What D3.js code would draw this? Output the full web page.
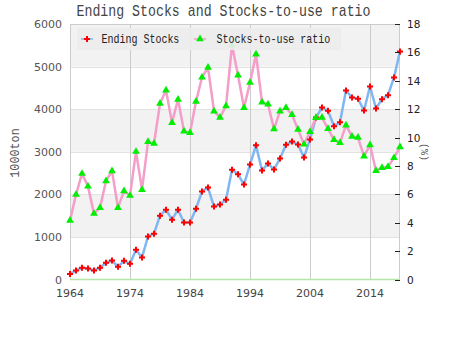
<!DOCTYPE html>
<html><head><meta charset="utf-8">
<script src="https://cdn.jsdelivr.net/npm/d3@7/dist/d3.min.js"></script>
<style>body{margin:0;background:#fff}svg{display:block}</style>
</head><body><svg id="c" width="450" height="350"></svg>
<script>
const years = [1964,1965,1966,1967,1968,1969,1970,1971,1972,1973,1974,1975,1976,1977,1978,1979,1980,1981,1982,1983,1984,1985,1986,1987,1988,1989,1990,1991,1992,1993,1994,1995,1996,1997,1998,1999,2000,2001,2002,2003,2004,2005,2006,2007,2008,2009,2010,2011,2012,2013,2014,2015,2016,2017,2018,2019];
const endingStocks = [130,212,275,259,212,275,392,447,298,439,369,698,518,1012,1075,1498,1640,1404,1640,1337,1337,1663,2066,2160,1714,1761,1875,2580,2470,2231,2698,3150,2561,2722,2584,2840,3165,3240,3170,2866,3290,3804,4039,3961,3600,3694,4439,4274,4243,3969,4533,4016,4235,4329,4745,5357];
const stocksToUse = [4.16,5.98,7.46,6.56,4.64,5.06,6.94,7.65,5.06,6.23,5.91,9.01,6.33,9.70,9.58,12.40,13.34,11.05,12.68,10.45,10.34,12.54,14.24,14.94,11.86,11.41,12.22,16.52,14.39,12.10,13.87,15.87,12.49,12.34,10.60,11.86,12.10,11.61,10.57,9.52,10.41,11.40,11.41,10.62,9.84,9.63,10.87,10.08,10.00,8.68,9.48,7.66,7.88,7.94,8.57,9.34];
const xTicks = [1964,1974,1984,1994,2004,2014];
const leftTicks = [0,1000,2000,3000,4000,5000,6000];
const rightTicks = [0,2,4,6,8,10,12,14,16,18];
const seriesNames = ["Ending Stocks","Stocks-to-use ratio"];
const title = "Ending Stocks and Stocks-to-use ratio";

const svg = d3.select("#c");
const L = 70, R = 400, T = 24, B = 279.5;
const x = d3.scaleLinear().domain([1964, 2019]).range([L, R]);
const yL = d3.scaleLinear().domain([0, 6000]).range([B, T]);
const yR = d3.scaleLinear().domain([0, 18]).range([B, T]);

// bands
const bands = d3.pairs(leftTicks);
svg.append("g").selectAll("rect").data(bands).join("rect")
  .attr("x", L).attr("width", R - L)
  .attr("y", d => yL(d[1])).attr("height", d => yL(d[0]) - yL(d[1]))
  .attr("fill", (d, i) => i % 2 === 1 ? "#f2f2f2" : "#ffffff");
svg.append("g").selectAll("line").data(leftTicks.slice(1)).join("line")
  .attr("x1", L).attr("x2", R).attr("y1", d => Math.round(yL(d)) + 0.5).attr("y2", d => Math.round(yL(d)) + 0.5)
  .attr("stroke", "#e2e2e2");
svg.append("g").selectAll("line").data(xTicks).join("line")
  .attr("x1", d => x(d) + 0.5).attr("x2", d => x(d) + 0.5).attr("y1", T).attr("y2", B)
  .attr("stroke", "#cccccc");
svg.append("path").attr("d", `M${L+0.5},${B}V${T+0.5}H${R-0.5}V${B}`).attr("fill", "none").attr("stroke", "#cccccc");
svg.append("line").attr("x1", L).attr("x2", R).attr("y1", B).attr("y2", B).attr("stroke", "#b4e6a8").attr("stroke-width", 1.5);

// lines
const lineL = d3.line().x((d, i) => x(years[i])).y(d => yL(d));
const lineR = d3.line().x((d, i) => x(years[i])).y(d => yR(d));
svg.append("path").attr("d", lineL(endingStocks)).attr("fill", "none").attr("stroke", "#7fb7f2").attr("stroke-width", 2.5).attr("stroke-linejoin", "round");
svg.append("path").attr("d", lineR(stocksToUse)).attr("fill", "none").attr("stroke", "#f49ec9").attr("stroke-width", 2.5).attr("stroke-linejoin", "round");

const cross = d3.symbol().type(d3.symbolCross).size(20);
const tri = d3.symbol().type(d3.symbolTriangle).size(26);
svg.append("g").selectAll("path").data(endingStocks).join("path")
  .attr("d", cross).attr("fill", "#ff0000")
  .attr("transform", (d, i) => `translate(${x(years[i])},${yL(d)})`);
svg.append("g").selectAll("path").data(stocksToUse).join("path")
  .attr("d", tri).attr("fill", "#00ee00")
  .attr("transform", (d, i) => `translate(${x(years[i])},${yR(d)})`);

// axes
const ax = svg.append("g").attr("font-family", "DejaVu Sans, sans-serif").attr("font-size", 11);
ax.selectAll(".lt").data(leftTicks).join("text").attr("class", "lt")
  .attr("x", 62).attr("y", d => yL(d) + 4).attr("text-anchor", "end").attr("fill", "#555").text(d => d);
ax.selectAll(".bt").data(xTicks).join("text").attr("class", "bt")
  .attr("x", d => x(d)).attr("y", 297).attr("text-anchor", "middle").attr("fill", "#444").text(d => d);
ax.selectAll(".rt").data(rightTicks).join("text").attr("class", "rt")
  .attr("x", 407).attr("y", d => yR(d) + 4).attr("fill", "#222").attr("font-size", 10.5).text(d => d);
svg.append("g").selectAll("line").data(rightTicks).join("line")
  .attr("x1", R - 5).attr("x2", R).attr("y1", d => Math.round(yR(d)) + 0.5).attr("y2", d => Math.round(yR(d)) + 0.5)
  .attr("stroke", "#222");

const mono = "Liberation Mono, DejaVu Sans Mono, monospace";
svg.append("text").attr("transform", "translate(76.5,16) scale(1,1.2)").attr("font-family", mono).attr("font-size", 13.25)
  .attr("fill", "#444").text(title);
svg.append("text").attr("transform", "translate(19,153) rotate(-90) scale(1,1.15)").attr("text-anchor", "middle")
  .attr("font-family", mono).attr("font-size", 11.8).attr("fill", "#555").text("1000ton");
svg.append("text").attr("transform", "translate(421,152) rotate(90)").attr("text-anchor", "middle")
  .attr("font-family", mono).attr("font-size", 10).attr("fill", "#555").text("(%)");

// legend
const lg = svg.append("g");
lg.append("rect").attr("x", 77).attr("y", 28).attr("width", 264).attr("height", 22).attr("fill", "#ececec").attr("opacity", 0.9);
const items = [
  {name: seriesNames[0], mx: 87, tx: 101.5, color: "#7fb7f2", sym: cross, fill: "#ff0000"},
  {name: seriesNames[1], mx: 200, tx: 216.5, color: "#f49ec9", sym: tri, fill: "#00ee00"}
];
items.forEach(it => {
  lg.append("line").attr("x1", it.mx - 6).attr("x2", it.mx + 6).attr("y1", 39).attr("y2", 39).attr("stroke", it.color).attr("stroke-width", 1.5);
  lg.append("path").attr("d", it.sym).attr("fill", it.fill).attr("transform", `translate(${it.mx},39)`);
  lg.append("text").attr("transform", `translate(${it.tx},42.5) scale(1,1.25)`).attr("font-family", mono).attr("font-size", 10)
    .attr("fill", "#222").text(it.name);
});
</script></body></html>
